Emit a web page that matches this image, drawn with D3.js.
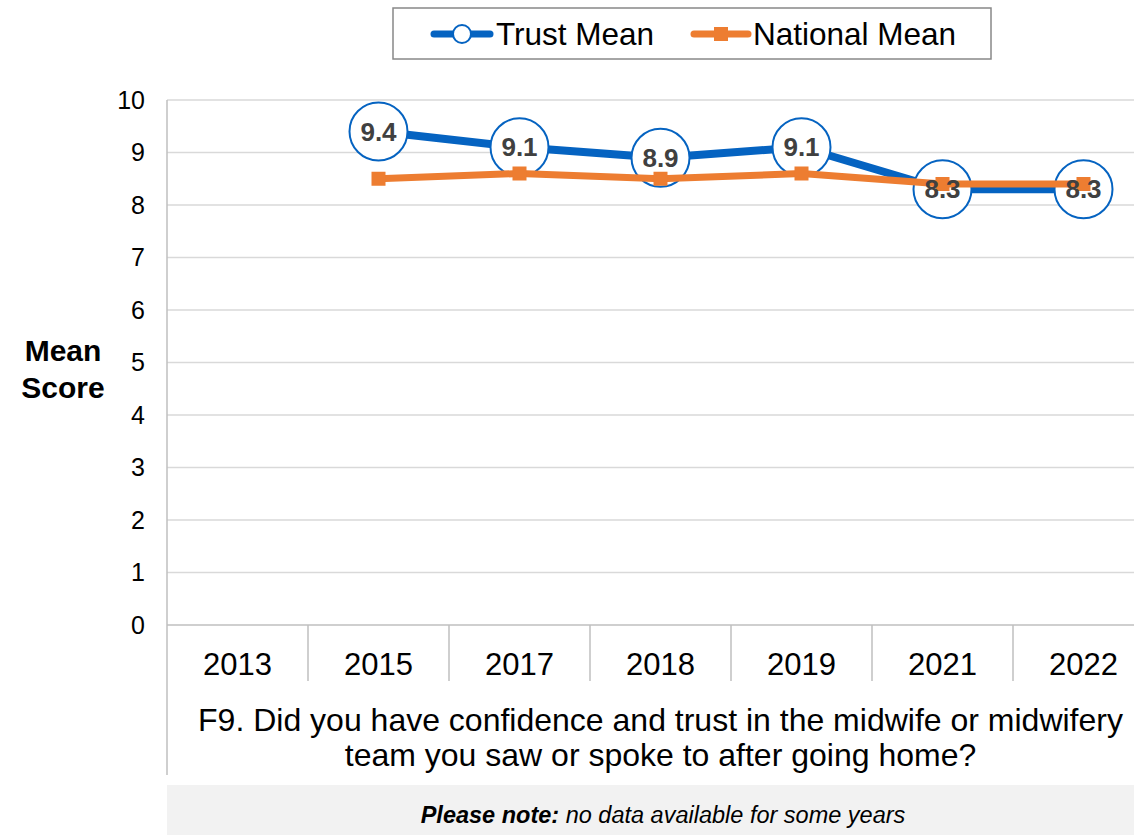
<!DOCTYPE html>
<html>
<head>
<meta charset="utf-8">
<script src="https://cdn.jsdelivr.net/npm/d3@7"></script>
<style>
  body { margin: 0; background: #fff; }
  svg { display: block; font-family: Arial, "Liberation Sans", sans-serif; }
</style>
</head>
<body>
<div id="chart"></div>
<script>
// Chart data
const years = ["2013", "2015", "2017", "2018", "2019", "2021", "2022"];
const trustMean = [null, 9.4, 9.1, 8.9, 9.1, 8.3, 8.3];
const nationalMean = [null, 8.5, 8.6, 8.5, 8.6, 8.4, 8.4];
const yTicks = [0, 1, 2, 3, 4, 5, 6, 7, 8, 9, 10];
const questionLines = [
    "F9. Did you have confidence and trust in the midwife or midwifery",
    "team you saw or spoke to after going home?"
];

const W = 1134, H = 835;
const blue = "#0563c1", orange = "#ed7d31";

const svg = d3.select("#chart")
    .append("svg")
    .attr("width", W)
    .attr("height", H);

// Scales
const x = d3.scaleBand().domain(years).range([167, 1154]);
const y = d3.scaleLinear().domain([0, 10]).range([625, 100]);

// Gridlines
svg.append("g")
    .selectAll("line")
    .data(yTicks.filter(d => d > 0))
    .join("line")
    .attr("x1", 167).attr("x2", W)
    .attr("y1", d => y(d)).attr("y2", d => y(d))
    .attr("stroke", "#d9d9d9")
    .attr("stroke-width", 1.5);

// Y axis
const yAxis = svg.append("g")
    .attr("transform", "translate(167,0)")
    .call(d3.axisLeft(y).tickValues(yTicks).tickSize(0).tickPadding(22));
yAxis.select(".domain").remove();
yAxis.selectAll("text")
    .style("font-size", "25px")
    .attr("fill", "#000");

// Axis lines
svg.append("line")
    .attr("x1", 167).attr("x2", 167)
    .attr("y1", 100).attr("y2", 775)
    .attr("stroke", "#bfbfbf").attr("stroke-width", 1.5);
svg.append("line")
    .attr("x1", 167).attr("x2", W)
    .attr("y1", 625).attr("y2", 625)
    .attr("stroke", "#bfbfbf").attr("stroke-width", 1.5);

// Category separators and labels
svg.append("g")
    .selectAll("line")
    .data(years.slice(1))
    .join("line")
    .attr("x1", d => x(d)).attr("x2", d => x(d))
    .attr("y1", 625).attr("y2", 681)
    .attr("stroke", "#bfbfbf").attr("stroke-width", 1.5);

svg.append("g")
    .selectAll("text")
    .data(years)
    .join("text")
    .attr("x", d => x(d) + x.bandwidth() / 2)
    .attr("y", 675)
    .attr("text-anchor", "middle")
    .style("font-size", "31px")
    .text(d => d);

// Question text
svg.append("g")
    .selectAll("text")
    .data(questionLines)
    .join("text")
    .attr("x", (167 + 1154) / 2)
    .attr("y", (d, i) => 731 + i * 35)
    .attr("text-anchor", "middle")
    .style("font-size", "32px")
    .text(d => d);

// Y axis title
svg.append("text")
    .attr("x", 63).attr("y", 361)
    .attr("text-anchor", "middle")
    .style("font-size", "30px").style("font-weight", "bold")
    .selectAll("tspan")
    .data(["Mean", "Score"])
    .join("tspan")
    .attr("x", 63)
    .attr("dy", (d, i) => i === 0 ? 0 : 37)
    .text(d => d);

// Lines
const cx = (d, i) => x(years[i]) + x.bandwidth() / 2;
const line = d3.line()
    .defined(d => d !== null)
    .x(cx)
    .y(d => y(d));

svg.append("path")
    .datum(trustMean)
    .attr("d", line)
    .attr("fill", "none")
    .attr("stroke", blue)
    .attr("stroke-width", 8)
    .attr("stroke-linejoin", "round");

svg.append("g")
    .selectAll("circle")
    .data(trustMean.map((v, i) => ({ v, i })).filter(d => d.v !== null))
    .join("circle")
    .attr("cx", d => cx(d.v, d.i))
    .attr("cy", d => y(d.v))
    .attr("r", 29)
    .attr("fill", "#fff")
    .attr("stroke", blue)
    .attr("stroke-width", 2);

svg.append("path")
    .datum(nationalMean)
    .attr("d", line)
    .attr("fill", "none")
    .attr("stroke", orange)
    .attr("stroke-width", 7)
    .attr("stroke-linejoin", "round");

svg.append("g")
    .selectAll("rect")
    .data(nationalMean.map((v, i) => ({ v, i })).filter(d => d.v !== null))
    .join("rect")
    .attr("x", d => cx(d.v, d.i) - 7)
    .attr("y", d => y(d.v) - 7)
    .attr("width", 14)
    .attr("height", 14)
    .attr("fill", orange);

// Data labels
svg.append("g")
    .selectAll("text")
    .data(trustMean.map((v, i) => ({ v, i })).filter(d => d.v !== null))
    .join("text")
    .attr("x", d => cx(d.v, d.i))
    .attr("y", d => y(d.v) + 9)
    .attr("text-anchor", "middle")
    .style("font-size", "26px").style("font-weight", "bold")
    .attr("fill", "#404040")
    .text(d => d.v.toFixed(1));

// Legend
const legend = svg.append("g");
legend.append("rect")
    .attr("x", 393).attr("y", 8)
    .attr("width", 598).attr("height", 51)
    .attr("fill", "#fff")
    .attr("stroke", "#888").attr("stroke-width", 1.5);
legend.append("line")
    .attr("x1", 434).attr("x2", 490).attr("y1", 34).attr("y2", 34)
    .attr("stroke", blue).attr("stroke-width", 7).attr("stroke-linecap", "round");
legend.append("circle")
    .attr("cx", 462).attr("cy", 34).attr("r", 9)
    .attr("fill", "#fff").attr("stroke", blue).attr("stroke-width", 2);
legend.append("text")
    .attr("x", 496).attr("y", 45)
    .style("font-size", "31.5px")
    .text("Trust Mean");
legend.append("line")
    .attr("x1", 694).attr("x2", 748).attr("y1", 34).attr("y2", 34)
    .attr("stroke", orange).attr("stroke-width", 7).attr("stroke-linecap", "round");
legend.append("rect")
    .attr("x", 714).attr("y", 27).attr("width", 14).attr("height", 14)
    .attr("fill", orange);
legend.append("text")
    .attr("x", 753).attr("y", 45)
    .style("font-size", "31.5px")
    .text("National Mean");

// Note box
svg.append("rect")
    .attr("x", 167).attr("y", 785)
    .attr("width", W - 167).attr("height", 50)
    .attr("fill", "#f2f2f2");
const note = svg.append("text")
    .attr("x", 663).attr("y", 823)
    .attr("text-anchor", "middle")
    .style("font-size", "23.5px")
    .style("font-style", "italic");
note.append("tspan").style("font-weight", "bold").text("Please note:");
note.append("tspan").text(" no data available for some years");
</script>
</body>
</html>
